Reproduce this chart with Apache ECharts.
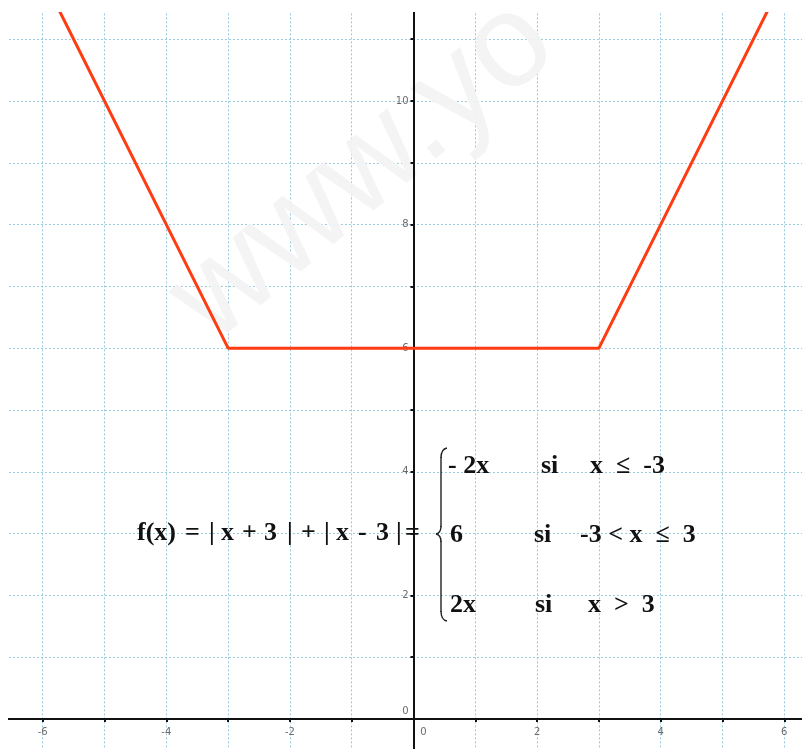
<!DOCTYPE html>
<html>
<head>
<meta charset="utf-8">
<script src="https://cdn.jsdelivr.net/npm/echarts@6/dist/echarts.min.js"></script>
<style>
  html, body { margin: 0; padding: 0; background: #fff; }
  #chart { width: 802px; height: 749px; }
</style>
</head>
<body>
<div id="chart"></div>
<script>
// f(x) = |x + 3| + |x - 3| : corner points of the piecewise-linear graph
const fxX = [-6, -3, 3, 6];
const fxY = [12, 6, 6, 12];

// axis ranges and labelled ticks
const xRange = [-7, 7];
const yRange = [-1, 12];
const xTickLabels = [-6, -4, -2, 0, 2, 4, 6];
const yTickLabels = [0, 2, 4, 6, 8, 10];

// formula pieces: [text, left x]
const formulaLeft = [
  ['f(x)', 137], ['=', 185], ['|', 209], ['x', 221], ['+', 242], ['3', 264],
  ['|', 287], ['+', 301], ['|', 324], ['x', 336], ['-', 358], ['3', 376],
  ['|', 396], ['=', 405]
];
const caseRows = [
  { y: 466, expr: '- 2x', exprX: 448, si: 541, cond: 'x  \u2264  -3', condX: 590 },
  { y: 535, expr: '6', exprX: 450, si: 534, cond: '-3 < x  \u2264  3', condX: 580 },
  { y: 605, expr: '2x', exprX: 450, si: 535, cond: 'x  >  3', condX: 588 }
];

const chart = echarts.init(document.getElementById('chart'), null, { renderer: 'canvas' });

const unit = 61.8;          // pixels per unit on both axes
const originX = 413.5, originY = 719;

const gridDash = { color: '#98c8dc', width: 1, type: [2, 2] };
const axisLineStyle = { color: '#111', width: 2 };
const labelStyle = { color: '#6b6b6b', fontSize: 10, fontFamily: 'DejaVu Sans' };

const serif = 'bold 26px "Liberation Serif", "Times New Roman", serif';
const graphics = [];

// blank strip along the top and left edge (plot starts a few pixels in)
graphics.push({ type: 'rect', shape: { x: 0, y: 0, width: 802, height: 12 }, style: { fill: '#fff' }, z: 50 });
graphics.push({ type: 'rect', shape: { x: 0, y: 0, width: 8, height: 749 }, style: { fill: '#fff' }, z: 50 });

// faint watermark: over the dotted grid, under the axes and the curve
graphics.push({
  type: 'text', x: 232, y: 368, rotation: 40 * Math.PI / 180, z: 2,
  style: { text: 'www.yo', font: '132px "Liberation Sans", Arial, sans-serif', fill: 'rgba(243,243,243,0.92)', textVerticalAlign: 'bottom' }
});

formulaLeft.forEach(([t, x]) => {
  graphics.push({ type: 'text', x: x, y: 533, z: 70, style: { text: t, font: serif, fill: '#111', textVerticalAlign: 'middle' } });
});

// curly brace grouping the three cases
const braceStyle = { stroke: '#222', lineWidth: 1.4 };
graphics.push({ type: 'bezierCurve', z: 70, shape: { x1: 447, y1: 448, x2: 441, y2: 458, cpx1: 441, cpy1: 449 }, style: braceStyle });
graphics.push({ type: 'line', z: 70, shape: { x1: 441, y1: 457, x2: 441, y2: 527 }, style: braceStyle });
graphics.push({ type: 'bezierCurve', z: 70, shape: { x1: 441, y1: 526, x2: 436, y2: 534, cpx1: 441, cpy1: 533 }, style: braceStyle });
graphics.push({ type: 'bezierCurve', z: 70, shape: { x1: 436, y1: 534, x2: 441, y2: 542, cpx1: 441, cpy1: 535 }, style: braceStyle });
graphics.push({ type: 'line', z: 70, shape: { x1: 441, y1: 541, x2: 441, y2: 612 }, style: braceStyle });
graphics.push({ type: 'bezierCurve', z: 70, shape: { x1: 441, y1: 611, x2: 447, y2: 621, cpx1: 441, cpy1: 620 }, style: braceStyle });

caseRows.forEach(r => {
  graphics.push({ type: 'text', x: r.exprX, y: r.y, z: 70, style: { text: r.expr, font: serif, fill: '#111', textVerticalAlign: 'middle' } });
  graphics.push({ type: 'text', x: r.si, y: r.y, z: 70, style: { text: 'si', font: serif, fill: '#111', textVerticalAlign: 'middle' } });
  graphics.push({ type: 'text', x: r.condX, y: r.y, z: 70, style: { text: r.cond, font: serif, fill: '#111', textVerticalAlign: 'middle' } });
});

// axis 0: dotted grid only; axis 1: the drawn axis lines, ticks and labels
const xAxisBase = { type: 'value', min: xRange[0], max: xRange[1], interval: 1, gridIndex: 0 };
const yAxisBase = { type: 'value', min: yRange[0], max: yRange[1], interval: 1, gridIndex: 0 };

const option = {
  animation: false,
  backgroundColor: '#fff',
  grid: {
    left: originX + xRange[0] * unit,
    top: originY - yRange[1] * unit,
    width: (xRange[1] - xRange[0]) * unit,
    height: (yRange[1] - yRange[0]) * unit,
    containLabel: false,
    outerBoundsMode: 'none'
  },
  xAxis: [
    {
      ...xAxisBase, z: 0,
      axisLine: { show: false }, axisTick: { show: false }, axisLabel: { show: false },
      splitLine: { show: true, lineStyle: gridDash }
    },
    {
      ...xAxisBase, z: 4,
      position: 'bottom',
      offset: yRange[0] * unit,      // pull the axis up onto y = 0
      axisLine: { onZero: false, lineStyle: axisLineStyle },
      axisTick: { show: true, length: 3, lineStyle: { color: '#111', width: 2 } },
      splitLine: { show: false },
      axisLabel: {
        ...labelStyle, margin: 8,
        formatter: v => xTickLabels.includes(v) ? (v === 0 ? '{z|0}' : String(v)) : '',
        rich: { z: { ...labelStyle, padding: [0, 0, 0, 20] } }
      }
    }
  ],
  yAxis: [
    {
      ...yAxisBase, z: 0,
      axisLine: { show: false }, axisTick: { show: false }, axisLabel: { show: false },
      splitLine: { show: true, lineStyle: gridDash }
    },
    {
      ...yAxisBase, z: 4,
      position: 'left',
      offset: xRange[0] * unit,      // pull the axis right onto x = 0
      axisLine: { onZero: false, lineStyle: axisLineStyle },
      axisTick: { show: true, length: 3, lineStyle: { color: '#111', width: 2 } },
      splitLine: { show: false },
      axisLabel: {
        ...labelStyle, margin: 5,
        formatter: v => yTickLabels.includes(v) ? (v === 0 ? '{z|0}' : String(v)) : '',
        rich: { z: { ...labelStyle, padding: [0, 0, 16, 0] } }
      }
    }
  ],
  series: [{
    type: 'line',
    xAxisIndex: 0, yAxisIndex: 0,
    data: fxX.map((x, i) => [x, fxY[i]]),
    symbol: 'none',
    lineStyle: { color: '#ff3b12', width: 3 },
    z: 5
  }],
  graphic: graphics
};

chart.setOption(option);
</script>
</body>
</html>
